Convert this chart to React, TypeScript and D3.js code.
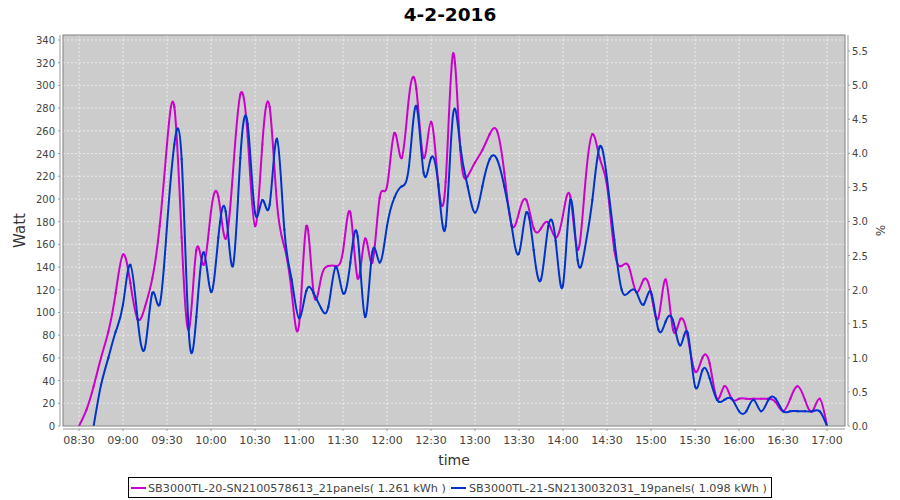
import React from "react";
import * as d3 from "d3";

// ---- data ----
const chartTitle = "4-2-2016";
const startMinutes = 8 * 60 + 30; // 08:30
const stepMinutes = 5;

const seriesNames = [
  "SB3000TL-20-SN2100578613_21panels( 1.261 kWh )",
  "SB3000TL-21-SN2130032031_19panels( 1.098 kWh )",
];

const magentaValues: (number | null)[] = [
  0, 14, 35, 60, 83, 117, 151, 126, 94, 105,
  130, 176, 248, 281, 166, 85, 155, 142, 189, 202,
  165, 224, 292, 255, 176, 248, 281, 196, 158, 118,
  89, 176, 117, 130, 141, 141, 154, 188, 130, 165,
  144, 201, 211, 258, 236, 290, 297, 236, 268, 213,
  215, 328, 243, 220, 232, 243, 257, 260, 223, 177,
  188, 199, 174, 174, 179, 166, 186, 202, 155, 211,
  257, 236, 212, 155, 141, 140, 118, 129, 117, 95,
  129, 85, 94, 79, 48, 60, 55, 24, 35, 24,
  24, 24, 24, 24, 24, 21, 13, 24, 35, 23,
  13, 24, 0,
];

const blueValues: (number | null)[] = [
  null, null, 0, 36, 60, 83, 107, 142, 94, 69,
  117, 107, 176, 248, 235, 80, 96, 153, 118, 166,
  189, 141, 236, 266, 188, 199, 195, 253, 173, 129,
  95, 119, 117, 104, 105, 140, 117, 144, 167, 96,
  153, 144, 176, 201, 211, 229, 282, 223, 236, 212,
  176, 274, 246, 211, 188, 211, 235, 235, 211, 176,
  152, 188, 155, 129, 176, 163, 124, 199, 146, 157,
  199, 246, 218, 164, 120, 118, 118, 107, 118, 85,
  92, 93, 71, 82, 35, 49, 42, 23, 23, 24,
  13, 13, 23, 13, 23, 24, 13, 13, 13, 13,
  13, 13, 0,
];

const xTickLabels = [
  "08:30", "09:00", "09:30", "10:00", "10:30", "11:00", "11:30", "12:00", "12:30",
  "13:00", "13:30", "14:00", "14:30", "15:00", "15:30", "16:00", "16:30", "17:00",
];
const leftTicks = [0, 20, 40, 60, 80, 100, 120, 140, 160, 180, 200, 220, 240, 260, 280, 300, 320, 340];
const rightTicks = [0, 0.5, 1, 1.5, 2, 2.5, 3, 3.5, 4, 4.5, 5, 5.5];

const seriesColors = ["#cc00cc", "#0033cc"];

const toMinutes = (s: string) => {
  const [h, m] = s.split(":").map(Number);
  return h * 60 + m;
};

export default function App() {
  const W = 900;
  const H = 500;
  const plot = { left: 63, right: 845, top: 35, bottom: 426 };

  const x = d3.scaleLinear().domain([toMinutes("08:30"), toMinutes("17:00")]).range([79, 827]);
  const y = d3.scaleLinear().domain([0, 340]).range([plot.bottom, 40]);
  const yR = d3.scaleLinear().domain([0, 5.5]).range([plot.bottom, 51]);

  const series = [magentaValues, blueValues].map((vals) =>
    vals.map((v, i) => ({ t: startMinutes + i * stepMinutes, v }))
  );

  const line = d3
    .line<{ t: number; v: number | null }>()
    .defined((d) => d.v !== null)
    .x((d) => x(d.t))
    .y((d) => y(d.v as number))
    .curve(d3.curveNatural);

  const font = "'DejaVu Sans', sans-serif";
  const axisColor = "#999999";

  return (
    <svg
      width={W}
      height={H}
      style={{ position: "absolute", left: 0, top: 0, background: "#ffffff" }}
      fontFamily={font}
    >
      <rect x={0} y={0} width={W} height={H} fill="#ffffff" />
      <text x={450} y={21} textAnchor="middle" fontSize={18.5} fontWeight="bold" fill="#000">
        {chartTitle}
      </text>

      <defs>
        <clipPath id="plotClip">
          <rect x={plot.left} y={plot.top} width={plot.right - plot.left} height={plot.bottom - plot.top} />
        </clipPath>
      </defs>

      {/* plot background */}
      <rect
        x={plot.left}
        y={plot.top}
        width={plot.right - plot.left}
        height={plot.bottom - plot.top}
        fill="#cccccc"
      />
      {/* gridlines */}
      {leftTicks.map((t) => (
        <line
          key={"hg" + t}
          x1={plot.left}
          x2={plot.right}
          y1={y(t)}
          y2={y(t)}
          stroke="#ffffff"
          strokeWidth={0.6}
          strokeDasharray="2,2"
        />
      ))}
      {xTickLabels.map((l) => (
        <line
          key={"vg" + l}
          x1={x(toMinutes(l))}
          x2={x(toMinutes(l))}
          y1={plot.top}
          y2={plot.bottom}
          stroke="#ffffff"
          strokeWidth={0.6}
          strokeDasharray="2,2"
        />
      ))}

      {/* series */}
      <g clipPath="url(#plotClip)">
        {series.map((s, i) => (
          <g key={"s" + i}>
            <path d={line(s) || ""} fill="none" stroke={seriesColors[i]} strokeWidth={2} />
            {s
              .filter((d) => d.v !== null)
              .map((d, j) => (
                <rect
                  key={j}
                  x={x(d.t) - 1}
                  y={y(d.v as number) - 1}
                  width={2}
                  height={2}
                  fill={seriesColors[i]}
                />
              ))}
          </g>
        ))}
      </g>

      {/* plot outline */}
      <rect
        x={plot.left}
        y={plot.top}
        width={plot.right - plot.left}
        height={plot.bottom - plot.top}
        fill="none"
        stroke="#808080"
        strokeWidth={1}
      />

      {/* left axis */}
      <line x1={60} x2={60} y1={plot.top} y2={plot.bottom} stroke={axisColor} />
      {leftTicks.map((t) => (
        <g key={"lt" + t}>
          <line x1={58} x2={60} y1={y(t)} y2={y(t)} stroke={axisColor} />
          <text x={55} y={y(t) + 4} textAnchor="end" fontSize={10} fill="#444">
            {t}
          </text>
        </g>
      ))}
      <text
        transform={`translate(25,${(plot.top + plot.bottom) / 2}) rotate(-90)`}
        textAnchor="middle"
        fontSize={15}
        fill="#333"
      >
        Watt
      </text>

      {/* right axis */}
      <line x1={848} x2={848} y1={plot.top} y2={plot.bottom} stroke={axisColor} />
      {rightTicks.map((t) => (
        <g key={"rt" + t}>
          <line x1={848} x2={850} y1={yR(t)} y2={yR(t)} stroke={axisColor} />
          <text x={852} y={yR(t) + 4} textAnchor="start" fontSize={10} fill="#444">
            {t.toFixed(1)}
          </text>
        </g>
      ))}
      <text
        transform={`translate(876,${(plot.top + plot.bottom) / 2}) rotate(90)`}
        textAnchor="middle"
        fontSize={12}
        fill="#444"
      >
        %
      </text>

      {/* bottom axis */}
      <line x1={plot.left} x2={plot.right} y1={429} y2={429} stroke={axisColor} />
      {xTickLabels.map((l) => (
        <g key={"xt" + l}>
          <line x1={x(toMinutes(l))} x2={x(toMinutes(l))} y1={429} y2={431} stroke={axisColor} />
          <text x={x(toMinutes(l))} y={444} textAnchor="middle" fontSize={11} fill="#444">
            {l}
          </text>
        </g>
      ))}
      <text x={(plot.left + plot.right) / 2} y={465} textAnchor="middle" fontSize={14} fill="#333">
        time
      </text>

      {/* legend */}
      <rect x={128.5} y={477.5} width={643} height={20} fill="#ffffff" stroke="#000" strokeWidth={1} />
      <line x1={131} x2={146} y1={488} y2={488} stroke={seriesColors[0]} strokeWidth={2} />
      <text x={148} y={492} fontSize={11.2} fill="#444">
        {seriesNames[0]}
      </text>
      <line x1={451} x2={466} y1={488} y2={488} stroke={seriesColors[1]} strokeWidth={2} />
      <text x={469} y={492} fontSize={11.2} fill="#444">
        {seriesNames[1]}
      </text>
    </svg>
  );
}
